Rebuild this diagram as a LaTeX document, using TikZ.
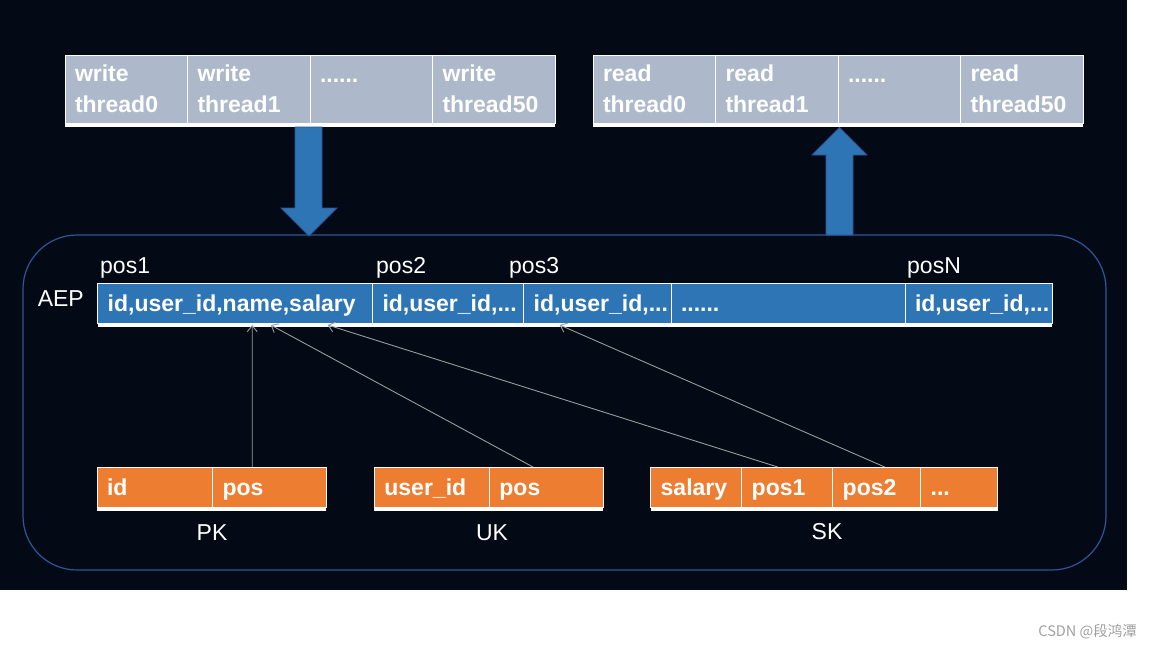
\documentclass[tikz,border=0pt]{standalone}
\usepackage{fontspec}
\setmainfont{Liberation Sans}
\newfontfamily\cjkfont{Noto Sans CJK SC}
\usetikzlibrary{calc,arrows.meta}

\definecolor{bgnavy}{HTML}{030A16}
\definecolor{cellgray}{HTML}{ADB9CA}
\definecolor{cellblue}{HTML}{2E75B6}
\definecolor{cellorange}{HTML}{ED7D31}
\definecolor{boxblue}{HTML}{2F5597}
\definecolor{arrowedge}{HTML}{2F528F}
\definecolor{linkgray}{HTML}{9A9A9A}
\definecolor{markgray}{HTML}{A0A0A0}

\newcommand\cellstrut{\rule[-5pt]{0pt}{27pt}}

\tikzset{
	cell/.style={draw=white, line width=0.8pt, outer sep=0pt, anchor=north west, inner xsep=10pt, inner ysep=0pt, align=left, text=white, font=\fontsize{23}{30.5}\selectfont\bfseries},
	gcell/.style={cell, fill=cellgray, minimum height=68pt, text width=102.5pt},
	bcell/.style={cell, fill=cellblue, minimum height=40pt, execute at begin node=\cellstrut},
	ocell/.style={cell, fill=cellorange, minimum height=40pt, execute at begin node=\cellstrut},
	lbl/.style={text=white, inner sep=0pt, font=\fontsize{23}{27}\selectfont},
	link/.style={draw=linkgray, line width=0.9pt, -{Straight Barb[length=6pt,width=10pt]}},
	fat/.style={fill=cellblue, draw=arrowedge, line width=0.8pt},
}

\begin{document}
\begin{tikzpicture}[x=1pt, y=-1pt]
			%%%%% START %%%%%
			\useasboundingbox (0,0) rectangle (1152,648);
			\fill[white] (0,0) rectangle (1152,648);
			\fill[bgnavy] (0,0) rectangle (1127,590);
			
			\draw[draw=boxblue, line width=1.2pt, rounded corners=54pt] (23,235) rectangle (1106,570);
			
			% write threads
			\node[gcell] (w1) at (65,55) {write\\thread0};
			\node[gcell] (w2) at (w1.north east) {write\\thread1};
			\node[gcell] (w3) at (w2.north east) {\vphantom{write}......\\\mbox{}};
			\node[gcell] (w4) at (w3.north east) {write\\thread50};
			\fill[white] (w1.south west) rectangle ([yshift=-4pt]w4.south east);
			
			% read threads
			\node[gcell] (r1) at (593,55) {read\\thread0};
			\node[gcell] (r2) at (r1.north east) {read\\thread1};
			\node[gcell] (r3) at (r2.north east) {\vphantom{read}......\\\mbox{}};
			\node[gcell] (r4) at (r3.north east) {read\\thread50};
			\fill[white] (r1.south west) rectangle ([yshift=-4pt]r4.south east);
			
			\filldraw[fat] (295,127) -- (322,127) -- (322,208) -- (337,208) -- (309,236) -- (281,208) -- (295,208) -- cycle;
			\filldraw[fat] (826,235) -- (853,235) -- (853,155) -- (867,155) -- (839.5,127.5) -- (812,155) -- (826,155) -- cycle;
			
			% AEP row
			\node[lbl, anchor=base east] (aep) at (84,306) {AEP};
			\node[bcell, text width=254.8pt] (a1) at (97.7,283) {id,user\_id,name,salary};
			\node[bcell, text width=131.2pt] (a2) at (a1.north east) {id,user\_id,...};
			\node[bcell, text width=127.3pt] (a3) at (a2.north east) {id,user\_id,...};
			\node[bcell, text width=214pt] (a4) at (a3.north east) {......};
			\node[bcell, text width=127pt] (a5) at (a4.north east) {id,user\_id,...};
			\fill[white] (a1.south west) rectangle ([yshift=-4pt]a5.south east);
			
			\node[lbl, anchor=base west] (p1) at (100,273) {pos1};
			\node[lbl, anchor=base west] (p2) at (376,273) {pos2};
			\node[lbl, anchor=base west] (p3) at (509,273) {pos3};
			\node[lbl, anchor=base west] (pn) at (907,273) {posN};
			
			% index tables
			\node[ocell, text width=95.6pt] (pk1) at (97,467) {id};
			\node[ocell, text width=93.4pt] (pk2) at (pk1.north east) {pos};
			\fill[white] (pk1.south west) rectangle ([yshift=-4pt]pk2.south east);
			\node[lbl, anchor=base] (pk) at (212,540) {PK};
			
			\node[ocell, text width=95pt] (uk1) at (374.4,467) {user\_id};
			\node[ocell, text width=94pt] (uk2) at (uk1.north east) {pos};
			\fill[white] (uk1.south west) rectangle ([yshift=-4pt]uk2.south east);
			\node[lbl, anchor=base] (uk) at (492,540) {UK};
			
			\node[ocell, text width=71pt] (sk1) at (650.7,467) {salary};
			\node[ocell, text width=71pt] (sk2) at (sk1.north east) {pos1};
			\node[ocell, text width=68pt] (sk3) at (sk2.north east) {pos2};
			\node[ocell, text width=57pt] (sk4) at (sk3.north east) {...};
			\fill[white] (sk1.south west) rectangle ([yshift=-4pt]sk4.south east);
			\node[lbl, anchor=base] (sk) at (827,539) {SK};
			
			% index -> record
			\draw[link] ([xshift=39.6pt]pk2.north west) -- ([xshift=154.5pt,yshift=-2pt]a1.south west);
			\draw[link] ([xshift=43.6pt]uk2.north west) -- ([xshift=173pt,yshift=-2pt]a1.south west);
			\draw[link] ([xshift=36pt]sk2.north west) -- ([xshift=230pt,yshift=-2pt]a1.south west);
			\draw[link] ([xshift=52pt]sk3.north west) -- ([xshift=36pt,yshift=-2pt]a3.south west);
			
			\node[anchor=base east, inner sep=0pt, text=markgray, font=\cjkfont\fontsize{14.5}{16}\selectfont] (mark) at (1137,636) {CSDN @段鸿潭};
			%%%%% END %%%%%
\end{tikzpicture}
\end{document}
